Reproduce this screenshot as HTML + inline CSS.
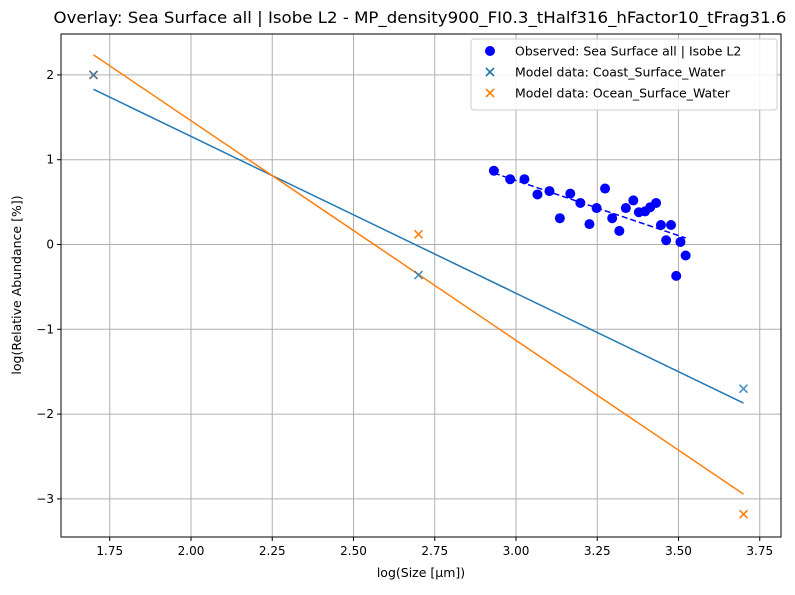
<!DOCTYPE html>
<html><head><meta charset="utf-8"><style>
body{margin:0;background:#fff;font-family:"Liberation Sans","DejaVu Sans",sans-serif}
svg text{font-family:"DejaVu Sans","Liberation Sans",sans-serif}
</style></head><body>
<svg id="chart" width="795" height="590" xmlns="http://www.w3.org/2000/svg"></svg>
<script>
const xTicks=[1.75,2.00,2.25,2.50,2.75,3.00,3.25,3.50,3.75];
const yTicks=[-3,-2,-1,0,1,2];
const obsX=[2.932,2.982,3.026,3.066,3.103,3.135,3.167,3.198,3.226,3.248,3.274,3.296,3.318,3.338,3.361,3.378,3.397,3.413,3.431,3.446,3.462,3.477,3.493,3.506,3.522];
const obsY=[0.87,0.77,0.77,0.59,0.63,0.31,0.60,0.49,0.24,0.43,0.66,0.31,0.16,0.43,0.52,0.38,0.39,0.44,0.49,0.23,0.05,0.23,-0.37,0.03,-0.13];
const modelX=[1.70,2.70,3.70];
const coastY=[2.0,-0.36,-1.70];
const oceanY=[2.0,0.12,-3.18];
const L=61,R=781,T=34,B=537;
const sx=v=>191+(v-2)*325;
const sy=v=>244.5-v*84.8;
const svg=document.getElementById('chart');
const NS='http://www.w3.org/2000/svg';
function mk(tag,attrs,parent){const e=document.createElementNS(NS,tag);for(const k in attrs)e.setAttribute(k,attrs[k]);(parent||svg).appendChild(e);return e;}
function fit(xs,ys){const n=xs.length;const mx=xs.reduce((a,b)=>a+b)/n,my=ys.reduce((a,b)=>a+b)/n;let num=0,den=0;for(let i=0;i<n;i++){num+=(xs[i]-mx)*(ys[i]-my);den+=(xs[i]-mx)**2;}const m=num/den;return [m,my-m*mx];}
xTicks.forEach(t=>{
 const g=mk('line',{x1:sx(t),x2:sx(t),y1:T,y2:B,stroke:'#b0b0b0','stroke-width':1});
 
 mk('line',{x1:sx(t),x2:sx(t),y1:B,y2:B+4,stroke:'#000'});
 const tx=mk('text',{x:sx(t),y:B+18,'text-anchor':'middle','font-size':12});tx.textContent=t.toFixed(2);
 
});
yTicks.forEach(t=>{
 const g=mk('line',{x1:L,x2:R,y1:sy(t),y2:sy(t),stroke:'#b0b0b0','stroke-width':1});
 
 mk('line',{x1:L-4,x2:L,y1:sy(t),y2:sy(t),stroke:'#000'});
 const tx=mk('text',{x:L-7,y:sy(t)+4,'text-anchor':'end','font-size':12});tx.textContent=(t<0?'\u2212'+(-t):t);
 
});
const defs=mk('defs',{});const cp=mk('clipPath',{id:'c'},defs);mk('rect',{x:L,y:T,width:R-L,height:B-T},cp);
const plot=mk('g',{'clip-path':'url(#c)'});
function fitLine(xs,ys,color,name,dash,x0,x1){const [m,b]=fit(xs,ys);const l=mk('line',{x1:sx(x0),y1:sy(m*x0+b),x2:sx(x1),y2:sy(m*x1+b),stroke:color,'stroke-width':1.5},plot);if(dash)l.setAttribute('stroke-dasharray',dash);
 }
fitLine(modelX,coastY,'#1f77b4','coast-fit-line',null,modelX[0],modelX[2]);
fitLine(modelX,oceanY,'#ff7f0e','ocean-fit-line',null,modelX[0],modelX[2]);
fitLine(obsX,obsY,'#0000ff','observed-fit-line','6,3',Math.min(...obsX),Math.max(...obsX));
obsX.forEach((x,i)=>{const c=mk('circle',{cx:sx(x),cy:sy(obsY[i]),r:5,fill:'#0000ff'},plot);
 });
function cross(cx,cy,color,parent){const g=mk('g',{stroke:color,'stroke-width':1.6},parent);mk('line',{x1:cx-4,y1:cy-4,x2:cx+4,y2:cy+4},g);mk('line',{x1:cx-4,y1:cy+4,x2:cx+4,y2:cy-4},g);return g;}
modelX.forEach((x,i)=>{const g=cross(sx(x),sy(oceanY[i]),'#ff7f0e',plot);});
modelX.forEach((x,i)=>{const g=cross(sx(x),sy(coastY[i]),'#1f77b4',plot);g.setAttribute('opacity',0.8);});
const fr=mk('rect',{x:L,y:T,width:R-L,height:B-T,fill:'none',stroke:'#000','stroke-width':1});

let t=mk('text',{x:420,y:23,'text-anchor':'middle','font-size':16,textLength:733,lengthAdjust:'spacingAndGlyphs'});t.textContent='Overlay: Sea Surface all | Isobe L2 - MP_density900_FI0.3_tHalf316_hFactor10_tFrag31.6';

t=mk('text',{x:(L+R)/2,y:577,'text-anchor':'middle','font-size':12.5});t.textContent='log(Size [µm])';

t=mk('text',{x:0,y:0,'text-anchor':'middle','font-size':12.5,transform:'translate(21,285) rotate(-90)'});t.textContent='log(Relative Abundance [%])';

const lg=mk('g',{});
mk('rect',{x:471,y:39,width:306,height:71,rx:3,fill:'#fff','fill-opacity':0.85,stroke:'#ccc'},lg);
const entries=[['Observed: Sea Surface all | Isobe L2','obs'],['Model data: Coast_Surface_Water','#1f77b4'],['Model data: Ocean_Surface_Water','#ff7f0e']];
entries.forEach((e,i)=>{const y=51+i*21;const g=mk('g',{},lg);
 if(e[1]==='obs')mk('circle',{cx:490,cy:y,r:5,fill:'#0000ff'},g);else cross(490,y,e[1],g);
 const tx=mk('text',{x:515,y:y+4.5,'font-size':12.5},g);tx.textContent=e[0];});
</script>
</body></html>
